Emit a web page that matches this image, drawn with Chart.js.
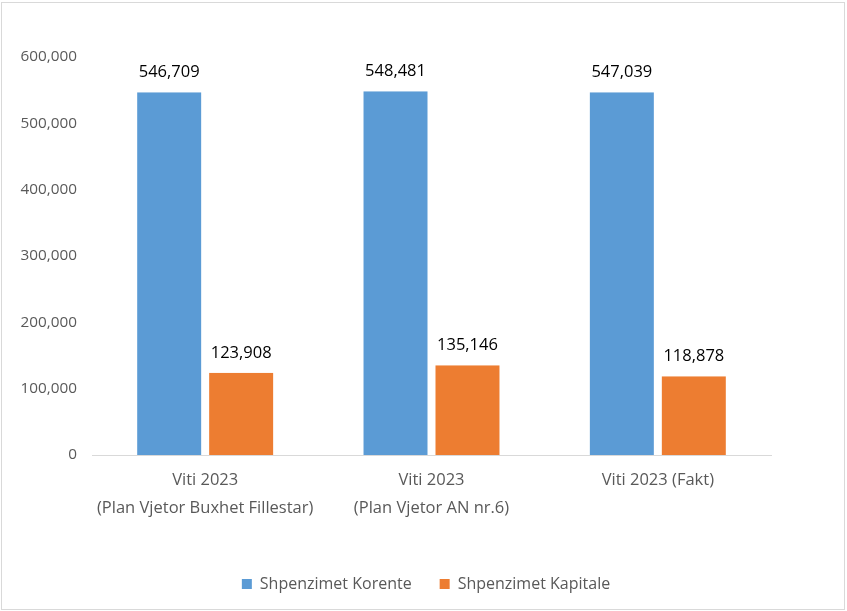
<!DOCTYPE html>
<html>
<head>
<meta charset="utf-8">
<script src="https://cdn.jsdelivr.net/npm/chart.js@4/dist/chart.umd.min.js"></script>
<style>
html,body{margin:0;padding:0;background:#fff;}
#wrap{width:847px;height:611px;position:relative;}
</style>
</head>
<body>
<div id="wrap"><canvas id="c" width="847" height="611"></canvas></div>
<script>
const categories = [
  ["Viti 2023", "(Plan Vjetor Buxhet Fillestar)"],
  ["Viti 2023", "(Plan Vjetor AN nr.6)"],
  "Viti 2023 (Fakt)"
];
const seriesNames = ["Shpenzimet Korente", "Shpenzimet Kapitale"];
const korente = [546709, 548481, 547039];
const kapitale = [123908, 135146, 118878];
const yTicks = [0, 100000, 200000, 300000, 400000, 500000, 600000];

const FONT = "'Open Sans', 'Noto Sans', sans-serif";
const fmt = v => v.toLocaleString('en-US');

const bgBorder = {
  id: 'bgBorder',
  beforeDraw(chart) {
    const ctx = chart.ctx;
    ctx.save();
    ctx.fillStyle = '#fff';
    ctx.fillRect(0, 0, chart.width, chart.height);
    ctx.strokeStyle = '#d9d9d9';
    ctx.lineWidth = 1;
    ctx.strokeRect(1.5, 2.5, 843, 607);
    ctx.restore();
  }
};

const dataLabels = {
  id: 'dataLabels',
  afterDatasetsDraw(chart) {
    const ctx = chart.ctx;
    ctx.save();
    ctx.font = "16.5px " + FONT;
    ctx.fillStyle = '#000';
    ctx.textAlign = 'center';
    ctx.textBaseline = 'middle';
    chart.data.datasets.forEach((ds, i) => {
      const meta = chart.getDatasetMeta(i);
      meta.data.forEach((el, j) => {
        ctx.fillText(fmt(ds.data[j]), el.x, el.y - 20);
      });
    });
    ctx.restore();
  }
};

new Chart(document.getElementById('c'), {
  type: 'bar',
  data: {
    labels: categories,
    datasets: [
      { label: seriesNames[0], data: korente, backgroundColor: '#5B9BD5',
        borderColor: '#fff', borderWidth: {left: 4, right: 4, top: 0, bottom: 0}, borderSkipped: false },
      { label: seriesNames[1], data: kapitale, backgroundColor: '#ED7D31',
        borderColor: '#fff', borderWidth: {left: 4, right: 4, top: 0, bottom: 0}, borderSkipped: false }
    ]
  },
  options: {
    responsive: false,
    animation: false,
    devicePixelRatio: 1,
    categoryPercentage: 0.636,
    barPercentage: 1,
    layout: { padding: { top: 57, right: 0, left: 5, bottom: 9 } },
    plugins: {
      tooltip: { enabled: false },
      legend: {
        position: 'bottom',
        labels: {
          boxWidth: 10, boxHeight: 10, padding: 28,
          color: '#595959',
          font: { family: FONT, size: 16 },
          generateLabels(chart) {
            return chart.data.datasets.map((ds, i) => ({
              text: ds.label, fillStyle: ds.backgroundColor, strokeStyle: ds.backgroundColor,
              lineWidth: 0, hidden: false, datasetIndex: i, fontColor: '#595959'
            }));
          }
        }
      }
    },
    scales: {
      x: {
        grid: { display: false, drawTicks: false },
        border: { display: true, color: '#d9d9d9', width: 1 },
        ticks: { color: '#595959', padding: 12, maxRotation: 0, autoSkip: false,
          font: { family: FONT, size: 16.5, lineHeight: 1.65 } },
        afterFit(scale) { scale.height = 93; }
      },
      y: {
        min: 0, max: 600000,
        grid: { display: false, drawTicks: false },
        border: { display: false },
        afterBuildTicks(scale) { scale.ticks = yTicks.map(v => ({ value: v })); },
        ticks: { color: '#595959', padding: 15,
          font: { family: FONT, size: 15.3 },
          callback: v => fmt(v) },
        afterFit(scale) { scale.width = 87; }
      },
      spacer: {
        type: 'linear', position: 'right', display: true,
        grid: { display: false, drawTicks: false },
        border: { display: false },
        ticks: { display: false },
        afterFit(scale) { scale.width = 76; }
      }
    }
  },
  plugins: [bgBorder, dataLabels]
});
</script>
</body>
</html>
